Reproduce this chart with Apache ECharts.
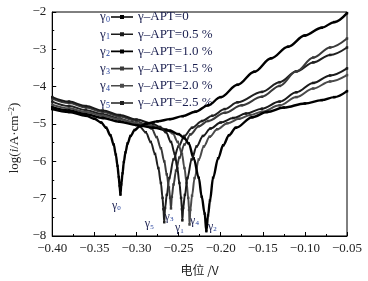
<!DOCTYPE html>
<html><head><meta charset="utf-8">
<script src="https://cdn.jsdelivr.net/npm/echarts@6/dist/echarts.min.js"></script>
<style>html,body{margin:0;padding:0;background:#fff}#c{width:368px;height:281px}</style>
</head><body><div id="c"></div>
<script>
// ---- data (potential V, log i) ----
const seriesNames = ['γ–APT=0','γ–APT=0.5 %','γ–APT=1.0 %','γ–APT=1.5 %','γ–APT=2.0 %','γ–APT=2.5 %'];
const seriesTags = ['0','1','2','3','4','5'];
const gamma0 = [[-0.400,-4.60],[-0.380,-4.68],[-0.360,-4.78],[-0.350,-4.86],[-0.342,-4.96],[-0.336,-5.10],[-0.331,-5.30],[-0.327,-5.55],[-0.3245,-5.82],[-0.3225,-6.12],[-0.321,-6.42],[-0.320,-6.66],[-0.319,-6.89],[-0.318,-6.62],[-0.3165,-6.32],[-0.315,-6.02],[-0.313,-5.76],[-0.3105,-5.52],[-0.307,-5.32],[-0.302,-5.16],[-0.296,-5.06],[-0.288,-4.99],[-0.275,-4.93],[-0.260,-4.87],[-0.245,-4.79],[-0.230,-4.67],[-0.215,-4.50],[-0.200,-4.28],[-0.180,-3.95],[-0.160,-3.60],[-0.140,-3.24],[-0.120,-2.93],[-0.100,-2.63],[-0.080,-2.42],[-0.065,-2.27],[-0.050,-2.03]];
const gamma1 = [[-0.400,-4.28],[-0.380,-4.40],[-0.360,-4.52],[-0.340,-4.64],[-0.320,-4.76],[-0.300,-4.88],[-0.280,-5.00],[-0.272,-5.08],[-0.265,-5.22],[-0.259,-5.48],[-0.2545,-5.80],[-0.2515,-6.18],[-0.249,-6.58],[-0.247,-6.98],[-0.246,-7.28],[-0.2455,-7.58],[-0.2445,-7.25],[-0.2425,-6.90],[-0.2395,-6.45],[-0.2345,-5.95],[-0.2285,-5.60],[-0.221,-5.32],[-0.212,-5.12],[-0.200,-4.96],[-0.185,-4.84],[-0.170,-4.72],[-0.151,-4.59],[-0.130,-4.40],[-0.110,-4.15],[-0.090,-3.90],[-0.070,-3.70],[-0.050,-3.51]];
const gamma2 = [[-0.400,-4.55],[-0.380,-4.64],[-0.360,-4.74],[-0.340,-4.84],[-0.320,-4.94],[-0.300,-5.03],[-0.280,-5.10],[-0.260,-5.18],[-0.250,-5.27],[-0.243,-5.38],[-0.238,-5.52],[-0.232,-5.92],[-0.226,-6.44],[-0.2225,-6.95],[-0.219,-7.40],[-0.217,-7.87],[-0.215,-7.45],[-0.2127,-7.05],[-0.209,-6.44],[-0.203,-5.92],[-0.197,-5.57],[-0.190,-5.30],[-0.182,-5.10],[-0.1625,-4.82],[-0.145,-4.68],[-0.125,-4.56],[-0.100,-4.45],[-0.080,-4.36],[-0.065,-4.28],[-0.050,-4.12]];
const gamma3 = [[-0.400,-4.32],[-0.380,-4.44],[-0.360,-4.56],[-0.340,-4.68],[-0.320,-4.80],[-0.300,-4.92],[-0.290,-5.00],[-0.282,-5.12],[-0.276,-5.35],[-0.271,-5.65],[-0.267,-6.00],[-0.264,-6.35],[-0.2615,-6.70],[-0.260,-6.98],[-0.259,-7.26],[-0.258,-6.95],[-0.256,-6.62],[-0.253,-6.25],[-0.249,-5.90],[-0.243,-5.55],[-0.236,-5.28],[-0.226,-5.06],[-0.215,-4.92],[-0.195,-4.70],[-0.175,-4.50],[-0.151,-4.27],[-0.130,-3.98],[-0.110,-3.59],[-0.090,-3.22],[-0.070,-2.95],[-0.050,-2.71]];
const gamma4 = [[-0.400,-4.48],[-0.380,-4.58],[-0.360,-4.68],[-0.340,-4.78],[-0.320,-4.88],[-0.300,-4.98],[-0.280,-5.06],[-0.265,-5.14],[-0.257,-5.25],[-0.251,-5.48],[-0.246,-5.80],[-0.243,-6.18],[-0.2405,-6.58],[-0.2385,-6.98],[-0.2375,-7.30],[-0.237,-7.69],[-0.236,-7.30],[-0.234,-6.92],[-0.231,-6.45],[-0.226,-5.95],[-0.220,-5.60],[-0.213,-5.34],[-0.204,-5.14],[-0.192,-4.98],[-0.178,-4.86],[-0.165,-4.76],[-0.151,-4.67],[-0.130,-4.50],[-0.110,-4.28],[-0.090,-4.05],[-0.070,-3.86],[-0.050,-3.69]];
const gamma5 = [[-0.400,-4.40],[-0.380,-4.52],[-0.360,-4.63],[-0.340,-4.74],[-0.320,-4.86],[-0.305,-4.95],[-0.297,-5.05],[-0.289,-5.22],[-0.283,-5.48],[-0.278,-5.80],[-0.274,-6.18],[-0.271,-6.58],[-0.269,-6.98],[-0.268,-7.28],[-0.267,-7.63],[-0.266,-7.25],[-0.264,-6.90],[-0.261,-6.45],[-0.256,-5.95],[-0.250,-5.60],[-0.243,-5.32],[-0.234,-5.10],[-0.222,-4.92],[-0.210,-4.78],[-0.195,-4.60],[-0.180,-4.42],[-0.151,-4.14],[-0.130,-3.88],[-0.110,-3.59],[-0.090,-3.35],[-0.070,-3.15],[-0.050,-2.95]];
const curves = [gamma0, gamma1, gamma2, gamma3, gamma4, gamma5];
const yTicks = [-8,-7,-6,-5,-4,-3,-2];

// ---- styling ----
const colors = ['#000000','#1a1a1a','#000000','#3a3a3a','#4a4a4a','#202020'];
const labelOffsets = [[-4,11],[-3,8],[6,-4],[-2,8],[5,-4],[-15,2]];
const SERIF = '"Liberation Serif","DejaVu Serif",serif';
const txtColor = '#1b2050';
const rich = {
  g:{fontFamily:SERIF,fontSize:12,color:txtColor},
  s:{fontFamily:SERIF,fontSize:7,color:'#1f3c9a',verticalAlign:'bottom',padding:[5,0,0,0]}
};
function minPoint(arr){let m=arr[0];arr.forEach(p=>{if(p[1]<m[1])m=p;});return m;}

const series = curves.map((arr,i)=>({
  name: seriesNames[i], type:'line', data: arr,
  smooth: 0.35, smoothMonotone:'x',
  symbol:'rect', symbolSize:2.5, showSymbol:true,
  lineStyle:{color:colors[i], width: (i===0||i===2)?2.4:2.0},
  itemStyle:{color:colors[i]},
  z: 10-i, animation:false,
  markPoint:{
    symbol:'circle', symbolSize:0, silent:true, animation:false,
    data:[{coord:minPoint(arr), value:seriesTags[i]}],
    label:{show:true, position:'inside', offset:labelOffsets[i],
      formatter: p=>'{g|γ}{s|'+p.value+'}', rich: rich}
  }
}));

const legendTop = 10.5, legendStep = 17.2, legendLine = 13;
const tagGraphics = [];
seriesTags.forEach((t,i)=>{
  const cy = legendTop + legendLine/2 + i*legendStep;
  tagGraphics.push({type:'text', x:100, y:cy, style:{text:'γ', fontFamily:SERIF, fontSize:13, fill:txtColor, verticalAlign:'middle'}});
  tagGraphics.push({type:'text', x:106, y:cy+3, style:{text:t, fontFamily:SERIF, fontSize:8, fill:'#1f3c9a', verticalAlign:'middle'}});
});

const chart = echarts.init(document.getElementById('c'), null, {renderer:'canvas'});
chart.setOption({
  animation:false,
  backgroundColor:'#fff',
  grid:{left:45,right:21,top:12,bottom:42,show:true,borderColor:'#000',borderWidth:1,backgroundColor:'transparent'},
  legend:{
    orient:'vertical', left:111, top:legendTop, padding:0,
    itemWidth:22, itemHeight:4, itemGap:legendStep-legendLine,
    icon:'path://M0,1.2h22v1.6h-22z M9,0h4v4h-4z',
    data: seriesNames,
    textStyle:{fontFamily:SERIF,fontSize:13,color:txtColor,lineHeight:legendLine,height:legendLine},
    selectedMode:false
  },
  graphic: tagGraphics,
  xAxis:{
    type:'value', min:-0.40, max:-0.05, interval:0.05,
    name:'电位 /V', nameLocation:'middle', nameGap:28,
    nameTextStyle:{fontFamily:'"Noto Sans CJK SC",'+SERIF,fontSize:12,color:'#222'},
    axisLine:{lineStyle:{color:'#000',width:1}},
    axisTick:{inside:true,length:4,lineStyle:{color:'#000'}},
    minorTick:{show:true,splitNumber:2,length:2,lineStyle:{color:'#000'}},
    splitLine:{show:false},
    axisLabel:{fontFamily:SERIF,fontSize:13,color:'#222',margin:6,
      formatter:v=>(v<0?'−':'')+Math.abs(v).toFixed(2)}
  },
  yAxis:{
    type:'value', min:yTicks[0], max:yTicks[yTicks.length-1], interval:1,
    name:'{n|log(}{i|i}{n|/A·cm}{sup|−2}{n|)}', nameLocation:'middle', nameGap:27, nameRotate:90,
    nameTextStyle:{padding:[0,28,0,0], rich:{
      n:{fontFamily:SERIF,fontSize:13,color:'#222'},
      i:{fontFamily:SERIF,fontSize:13,fontStyle:'italic',color:'#222'},
      sup:{fontFamily:SERIF,fontSize:8,color:'#222',verticalAlign:'top',padding:[0,0,6,0]}
    }},
    axisLine:{show:true,lineStyle:{color:'#000',width:1}},
    axisTick:{inside:true,length:4,lineStyle:{color:'#000'}},
    minorTick:{show:true,splitNumber:2,length:2,lineStyle:{color:'#000'}},
    splitLine:{show:false},
    axisLabel:{fontFamily:SERIF,fontSize:13,color:'#222',margin:6,
      formatter:v=>(v<0?'−':'')+Math.abs(v)}
  },
  series: series
});
</script></body></html>
